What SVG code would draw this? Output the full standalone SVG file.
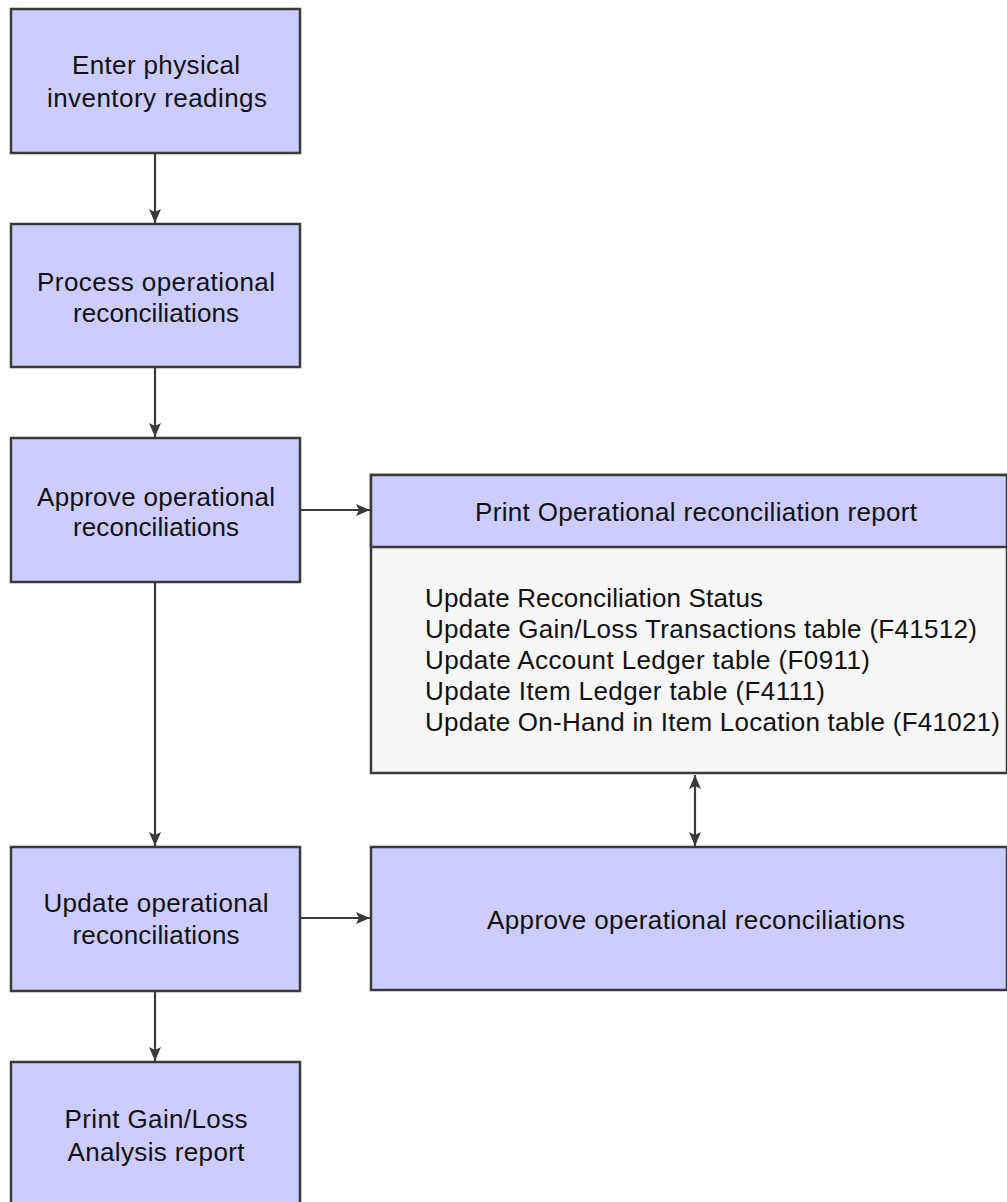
<svg xmlns="http://www.w3.org/2000/svg" width="1007" height="1202" viewBox="0 0 1007 1202">
<style>
.box{fill:#ccccff;stroke:#3a3a3a;stroke-width:2.5}
.body{fill:#f7f7f7;stroke:#3a3a3a;stroke-width:2.5}
.t{font-family:"Liberation Sans",Arial,sans-serif;font-size:26px;fill:#111;text-anchor:middle}
.tl{font-family:"Liberation Sans",Arial,sans-serif;font-size:26px;fill:#111}
.c{stroke:#3a3a3a;stroke-width:2.2;fill:none}
</style>
<defs>
<marker id="ah" markerUnits="userSpaceOnUse" markerWidth="14" markerHeight="12" viewBox="0 0 14 12" refX="14" refY="6" orient="auto-start-reverse">
<path d="M0,0 L14,6 L0,12 L3,6 z" fill="#3a3a3a"/>
</marker>
</defs>
<rect width="1007" height="1202" fill="#ffffff"/>
<g id="connectors">
<line class="c" x1="155" y1="153" x2="155" y2="223" marker-end="url(#ah)"/>
<line class="c" x1="155" y1="367" x2="155" y2="437" marker-end="url(#ah)"/>
<line class="c" x1="155" y1="582" x2="155" y2="846" marker-end="url(#ah)"/>
<line class="c" x1="155" y1="991" x2="155" y2="1061" marker-end="url(#ah)"/>
<line class="c" x1="300" y1="510" x2="370" y2="510" marker-end="url(#ah)"/>
<line class="c" x1="300" y1="918" x2="370" y2="918" marker-end="url(#ah)"/>
<line class="c" x1="695" y1="775" x2="695" y2="846" marker-start="url(#ah)" marker-end="url(#ah)"/>
</g>
<g id="n1">
<rect class="box" x="11" y="9" width="289" height="144"/>
<text class="t" x="156" y="74" textLength="168" lengthAdjust="spacing">Enter physical</text>
<text class="t" x="157" y="107" textLength="220" lengthAdjust="spacing">inventory readings</text>
</g>
<g id="n2">
<rect class="box" x="11" y="224" width="289" height="143"/>
<text class="t" x="156" y="291" textLength="238" lengthAdjust="spacing">Process operational</text>
<text class="t" x="156" y="322" textLength="166" lengthAdjust="spacing">reconciliations</text>
</g>
<g id="n3">
<rect class="box" x="11" y="438" width="289" height="144"/>
<text class="t" x="156" y="506" textLength="238" lengthAdjust="spacing">Approve operational</text>
<text class="t" x="156" y="536" textLength="166" lengthAdjust="spacing">reconciliations</text>
</g>
<g id="n4">
<rect class="box" x="11" y="847" width="289" height="144"/>
<text class="t" x="156" y="912" textLength="225" lengthAdjust="spacing">Update operational</text>
<text class="t" x="156" y="944" textLength="167" lengthAdjust="spacing">reconciliations</text>
</g>
<g id="n5">
<rect class="box" x="11" y="1062" width="289" height="150"/>
<text class="t" x="156" y="1128" textLength="183" lengthAdjust="spacing">Print Gain/Loss</text>
<text class="t" x="156" y="1161" textLength="177" lengthAdjust="spacing">Analysis report</text>
</g>
<g id="n6">
<rect class="body" x="371" y="475" width="636" height="298"/>
<rect class="box" x="371" y="475" width="636" height="72"/>
<text class="t" x="696" y="521" textLength="442" lengthAdjust="spacing">Print Operational reconciliation report</text>
<text class="tl" x="425" y="607" textLength="338" lengthAdjust="spacing">Update Reconciliation Status</text>
<text class="tl" x="425" y="638" textLength="552" lengthAdjust="spacing">Update Gain/Loss Transactions table (F41512)</text>
<text class="tl" x="425" y="669" textLength="445" lengthAdjust="spacing">Update Account Ledger table (F0911)</text>
<text class="tl" x="425" y="700" textLength="400" lengthAdjust="spacing">Update Item Ledger table (F4111)</text>
<text class="tl" x="425" y="731" textLength="575" lengthAdjust="spacing">Update On-Hand in Item Location table (F41021)</text>
</g>
<g id="n7">
<rect class="box" x="371" y="847" width="636" height="143"/>
<text class="t" x="696" y="929" textLength="418" lengthAdjust="spacing">Approve operational reconciliations</text>
</g>
</svg>
